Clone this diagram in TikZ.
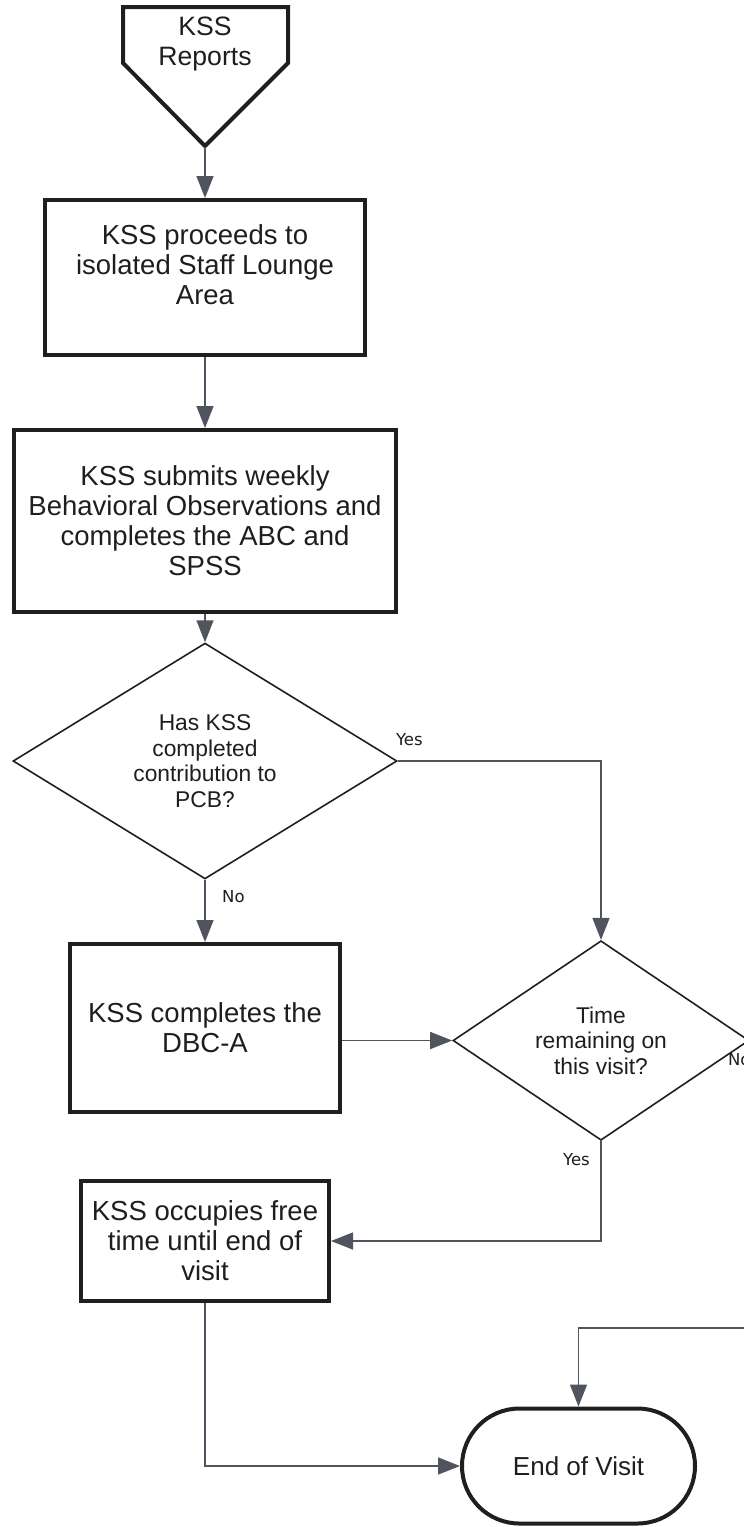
\documentclass[tikz,border=0pt]{standalone}
\usepackage{fontspec}
\setmainfont{Liberation Sans}
\newfontfamily\yesnofont{DejaVu Sans}
\usetikzlibrary{positioning,shapes.geometric,shapes.misc,arrows.meta}
\definecolor{flowline}{HTML}{50545F}
\definecolor{flowtext}{HTML}{1E1E1E}

\begin{document}
\begin{tikzpicture}[x=1pt,y=-1pt,
  procbox/.style={rectangle,draw=black!88,line width=4pt,align=center,text=flowtext,inner sep=0pt,font=\fontsize{27.5}{30}\selectfont},
  boxtext/.style={align=center,text=flowtext,inner sep=0pt,font=\fontsize{27.5}{30}\selectfont},
  decision/.style={diamond,draw=black!88,line width=1.6pt,align=center,text=flowtext,inner sep=0pt,font=\fontsize{22.8}{25.5}\selectfont},
  terminal/.style={rounded rectangle,draw=black!88,line width=4pt,text=flowtext,inner sep=0pt,font=\fontsize{26}{30}\selectfont},
  yesno/.style={inner sep=0pt,text=flowtext,font=\yesnofont\fontsize{16.5}{18}\selectfont},
  flow/.style={draw=flowline,line width=1.5pt,-{Triangle[length=22pt,width=17pt,fill=flowline]}}]
  \useasboundingbox (0,0) rectangle (744,1527);
  \clip (0,0) rectangle (744,1527);

  % start connector
  \draw[line width=4pt,draw=black!88] (123,7) -- (288,7) -- (288,63) -- (205,146) -- (123,63) -- cycle;
  \node[boxtext,font=\fontsize{26.6}{30}\selectfont] (rep) at (205,44) {KSS\\Reports};
  \coordinate (reptip) at (205,147);

  % steps
  \node[procbox,minimum width=320pt,minimum height=155pt] (lounge) at (205,277.5) {};
  \node[boxtext] (loungetext) at ([yshift=13pt]lounge.center) {KSS proceeds to\\isolated Staff Lounge\\Area};
  \node[procbox,minimum width=382pt,minimum height=182pt] (submit) at (205,521) {KSS submits weekly\\Behavioral Observations and\\completes the ABC and\\SPSS};
  \node[decision,minimum width=384pt,minimum height=216pt] (pcb) at (205,761) {Has KSS\\completed\\contribution to\\PCB?};
  \node[procbox,minimum width=270pt,minimum height=168pt] (dbca) at (205,1028) {KSS completes the\\DBC-A};
  \node[decision,minimum width=296pt,minimum height=165pt] (visit) at (601,1040.5) {Time\\remaining on\\this visit?};
  \node[procbox,minimum width=248pt,minimum height=120pt] (occupy) at (205,1241) {KSS occupies free\\time until end of\\visit};
  \node[terminal,minimum width=233pt,minimum height=115pt] (endv) at (578.5,1466) {End of Visit};
  \coordinate (noturn) at (790,1328);

  % connectors
  \draw[flow] (reptip) -- (lounge.north);
  \draw[flow] (lounge.south) -- (submit.north);
  \draw[flow] (submit.south) -- (pcb.north);
  \draw[flow] (pcb.east) -| (visit.north);
  \draw[flow] (pcb.south) -- (dbca.north);
  \draw[flow] (dbca.east |- visit.west) -- (visit.west);
  \draw[flow] (visit.south) |- (occupy.east);
  \draw[flow] (visit.east) -| (noturn) -| (endv.north);
  \draw[flow] (occupy.south) |- (endv.west);

  % labels
  \node[yesno,above right=15pt and -2pt of pcb.east] (pcbyes) {Yes};
  \node[yesno,below right=11pt and 17pt of pcb.south] (pcbno) {No};
  \node[yesno,below left=12pt and 11pt of visit.south] (visityes) {Yes};
  \node[yesno,below right=13pt and -22pt of visit.east] (visitno) {No};
\end{tikzpicture}
\end{document}
